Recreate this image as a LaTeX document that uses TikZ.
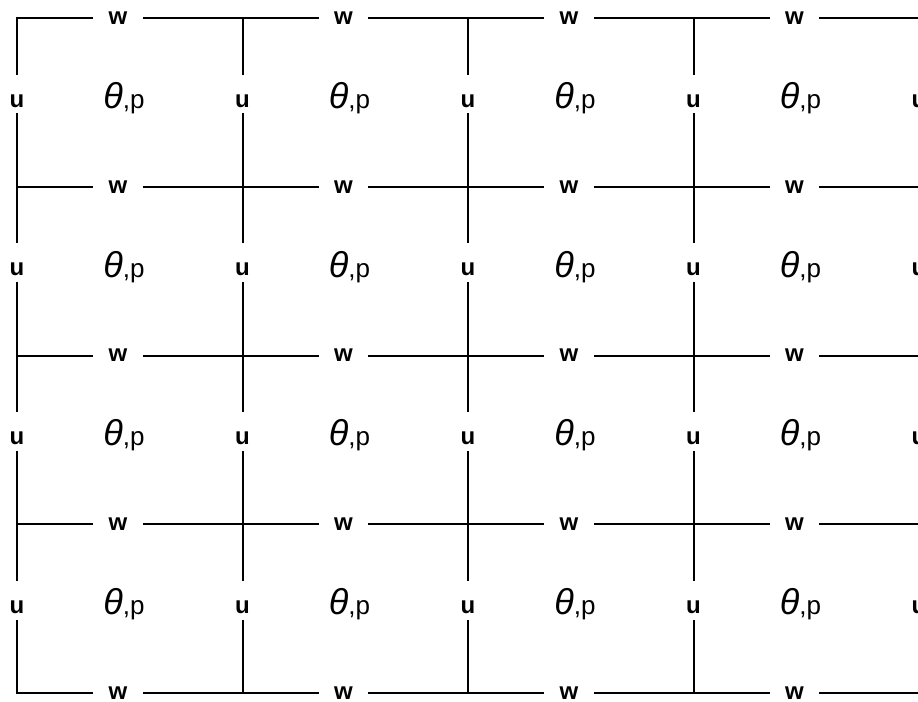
\documentclass[tikz,border=0pt]{standalone}
\usepackage{fontspec}
\setmainfont{Liberation Sans}
\usetikzlibrary{positioning}
\tikzset{
  gridline/.style={line width=1pt, line cap=rect},
  varlabel/.style={inner sep=0pt, font=\bfseries\fontsize{12}{13}\selectfont},
  wlabel/.style={varlabel, minimum width=25.5pt},
  ulabel/.style={varlabel, minimum height=20pt, text height=13pt, text depth=0pt},
  celllabel/.style={inner sep=0pt, font=\fontsize{13}{15}\selectfont}
}

\begin{document}
\begin{tikzpicture}[x=0.5pt,y=-0.5pt]
\useasboundingbox (0,0) rectangle (918,702);
\clip (0,0) rectangle (918,702);

% grid corners
\foreach \i in {0,...,4}
  \foreach \j in {0,...,4}
    \coordinate (v-\i-\j) at ({17+225.5*\i},{18+168.75*\j});

% w on horizontal edges
\foreach \i in {0,...,3}
  \foreach \j in {0,...,4}
    \node[wlabel] (w-\i-\j) at ({118+225.5*\i},{18+168.75*\j}) {w};

% u on vertical edges
\foreach \i in {0,...,4}
  \foreach \j in {0,...,3}
    \node[ulabel] (u-\i-\j) at ({17+225.5*\i},{94+168.75*\j}) {u};

% theta,p in cell centres
\foreach \i in {0,...,3}
  \foreach \j in {0,...,3}
    \node[celllabel] (c-\i-\j) at ({124+225.5*\i},{98+168.75*\j})
      {{\fontsize{18}{19}\selectfont\textit{θ}},p};

% edges
\foreach \i in {0,...,3}
  \foreach \j in {0,...,4} {
    \pgfmathtruncatemacro\nxt{\i+1}
    \draw[gridline] (v-\i-\j) -- (w-\i-\j) -- (v-\nxt-\j);
  }
\foreach \i in {0,...,4}
  \foreach \j in {0,...,3} {
    \pgfmathtruncatemacro\nxt{\j+1}
    \draw[gridline] (v-\i-\j) -- (u-\i-\j) -- (v-\i-\nxt);
  }
\end{tikzpicture}
\end{document}
